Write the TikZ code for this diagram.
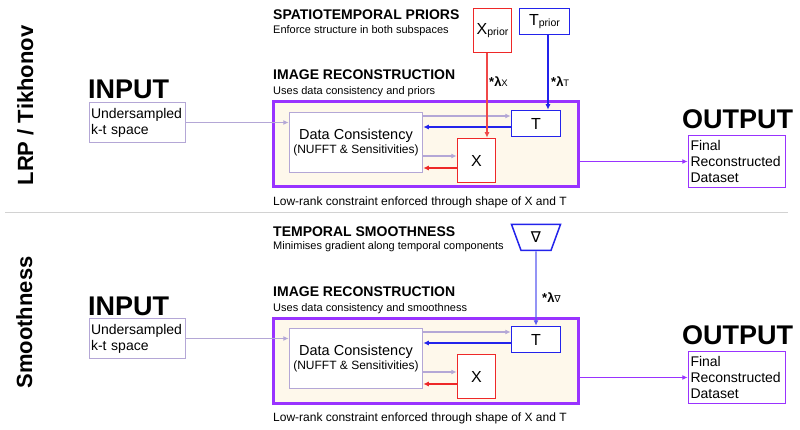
\documentclass[tikz,border=0pt]{standalone}
\usepackage{fontspec}
\setmainfont{Liberation Sans}
\newfontfamily\symfont{DejaVu Sans}
\usetikzlibrary{arrows.meta,shapes.geometric,calc}
\definecolor{redC}{RGB}{238,40,40}
\definecolor{blueC}{RGB}{35,35,235}
\definecolor{purp}{RGB}{153,51,255}
\definecolor{lpurp}{RGB}{180,167,214}
\definecolor{cream}{RGB}{254,248,235}
\definecolor{sepg}{RGB}{210,210,210}
\newcommand\mysubfnt{\fontsize{9.5}{9.5}\selectfont\mdseries}
\begin{document}
\begin{tikzpicture}[x=1pt,y=-1pt,
  box/.style={draw, line width=1.5pt, fill=white, inner sep=0pt},
  recbox/.style={draw=purp, line width=3pt, fill=cream, minimum width=305pt, minimum height=85pt, inner sep=0pt},
  lab/.style={inner sep=0pt, anchor=base west},
  bigt/.style={lab, font=\fontsize{27}{27}\selectfont\bfseries},
  sidet/.style={inner sep=0pt, rotate=90, anchor=base, font=\fontsize{22}{22}\selectfont\bfseries},
  headt/.style={lab, font=\fontsize{14}{14}\selectfont\bfseries},
  subt/.style={lab, font=\fontsize{11}{11}\selectfont},
  notet/.style={lab, font=\fontsize{12}{12}\selectfont},
  inbox/.style={box, draw=lpurp, minimum width=96pt, minimum height=40pt, text width=93pt, align=left, font=\fontsize{14}{16}\selectfont},
  outbox/.style={box, draw=purp, minimum width=97pt, minimum height=52pt, text width=93pt, align=left, font=\fontsize{14}{16}\selectfont},
  dcbox/.style={box, draw=lpurp, minimum width=133pt, minimum height=60pt, align=center, font=\fontsize{12}{14}\selectfont},
  tbox/.style={box, draw=blueC, minimum width=49pt, minimum height=26pt, font=\fontsize{16}{16}\selectfont},
  xbox/.style={box, draw=redC, minimum width=38pt, minimum height=44pt, font=\fontsize{16}{16}\selectfont},
  arr/.style={-{Latex[length=5.5pt,width=5pt]}, line width=1.3pt},
  lamt/.style={lab, font=\fontsize{13}{13}\selectfont\bfseries}
]
\useasboundingbox (0,0) rectangle (800,430);

% ---------------- top section ----------------
\node[sidet] (side1) at (33,105.5) {LRP / Tikhonov};
\node[bigt] (inT1) at (88,99) {INPUT};
\node[bigt] (outT1) at (682,128.5) {OUTPUT};
\node[headt] (spH) at (273,20) {SPATIOTEMPORAL PRIORS};
\node[subt] (spS) at (273,34) {Enforce structure in both subspaces};
\node[headt] (irH1) at (273,80) {IMAGE RECONSTRUCTION};
\node[subt] (irS1) at (273,95) {Uses data consistency and priors};
\node[notet] (lr1) at (273,205.5) {Low-rank constraint enforced through shape of X and T};

\node[recbox] (rec1) at (426,144) {};
\node[inbox] (in1) at (137.5,122.5) {Undersampled\\k-t space};
\node[outbox] (out1) at (737,161.5) {Final\\Reconstructed\\Dataset};
\node[dcbox] (dc1) at (356,142.5) {{\fontsize{14.5}{14}\selectfont Data Consistency}\\(NUFFT \& Sensitivities)};
\node[tbox] (t1) at (536,123.5) {T};
\node[xbox] (x1) at (476.5,160.5) {X};
\node[xbox] (xp) at (492.5,30.5) {X\raisebox{-1.5pt}{\fontsize{10.5}{10.5}\selectfont prior}};
\node[tbox, minimum width=50pt] (tp) at (544.5,21.5) {T\raisebox{-1.5pt}{\fontsize{10.5}{10.5}\selectfont prior}};

\coordinate (t1a) at ([yshift=7.5pt]t1.west);
\coordinate (t1b) at ([yshift=-3.5pt]t1.west);
\coordinate (x1a) at ([yshift=4.5pt]x1.west);
\coordinate (x1b) at ([yshift=-7.5pt]x1.west);
\draw[arr, lpurp] (in1.east) -- (in1.east -| dc1.west);
\draw[arr, lpurp] (t1a -| dc1.east) -- (t1a);
\draw[arr, blueC] (t1b) -- (t1b -| dc1.east);
\draw[arr, lpurp] (x1a -| dc1.east) -- (x1a);
\draw[arr, redC] (x1b) -- (x1b -| dc1.east);
\draw[arr, redC!85!white, line width=1.1pt] ([xshift=-5.5pt]xp.south) -- ([xshift=10.5pt]x1.north);
\draw[arr, blueC, line width=1.2pt] ([xshift=3.5pt]tp.south) -- ([xshift=12pt]t1.north);
\draw[arr, purp] (out1.west -| rec1.east) -- (out1.west);
\node[lamt] (lx) at (489,87) {*λ{\mysubfnt X}};
\node[lamt] (lt) at (551,87) {*λ{\mysubfnt T}};

% separator
\draw[sepg, line width=1.4pt] (5,212.5) -- (788,212.5);

% ---------------- bottom section ----------------
\node[sidet] (side2) at (32,322.5) {Smoothness};
\node[bigt] (inT2) at (88,315) {INPUT};
\node[bigt] (outT2) at (682,344.5) {OUTPUT};
\node[headt] (tsH) at (273,236.5) {TEMPORAL SMOOTHNESS};
\node[subt] (tsS) at (273,250) {Minimises gradient along temporal components};
\node[headt] (irH2) at (273,296) {IMAGE RECONSTRUCTION};
\node[subt] (irS2) at (273,311) {Uses data consistency and smoothness};
\node[notet] (lr2) at (273,421) {Low-rank constraint enforced through shape of X and T};

\node[recbox] (rec2) at (426,360.5) {};
\node[inbox] (in2) at (137.5,338.5) {Undersampled\\k-t space};
\node[outbox] (out2) at (737,377.5) {Final\\Reconstructed\\Dataset};
\node[dcbox] (dc2) at (356,358.5) {{\fontsize{14.5}{14}\selectfont Data Consistency}\\(NUFFT \& Sensitivities)};
\node[tbox] (t2) at (536,339.5) {T};
\node[xbox] (x2) at (476.5,376.5) {X};
\node[trapezium, draw=blueC, line width=1.5pt, fill=white, trapezium angle=73.5, shape border rotate=180,
      minimum width=49pt, minimum height=26pt, trapezium stretches=true, inner sep=0pt,
      font=\symfont\fontsize{15}{15}\selectfont] (nab) at (536,237.5) {∇};

\coordinate (t2a) at ([yshift=7.5pt]t2.west);
\coordinate (t2b) at ([yshift=-3.5pt]t2.west);
\coordinate (x2a) at ([yshift=4.5pt]x2.west);
\coordinate (x2b) at ([yshift=-7.5pt]x2.west);
\draw[arr, lpurp] (in2.east) -- (in2.east -| dc2.west);
\draw[arr, lpurp] (t2a -| dc2.east) -- (t2a);
\draw[arr, blueC] (t2b) -- (t2b -| dc2.east);
\draw[arr, lpurp] (x2a -| dc2.east) -- (x2a);
\draw[arr, redC] (x2b) -- (x2b -| dc2.east);
\draw[arr, blueC!75!white, line width=1.4pt] (nab.south) -- (t2.north);
\draw[arr, purp] (out2.west -| rec2.east) -- (out2.west);
\node[lamt] (ln) at (542,302) {*λ{\mysubfnt\symfont ∇}};
\end{tikzpicture}
\end{document}
